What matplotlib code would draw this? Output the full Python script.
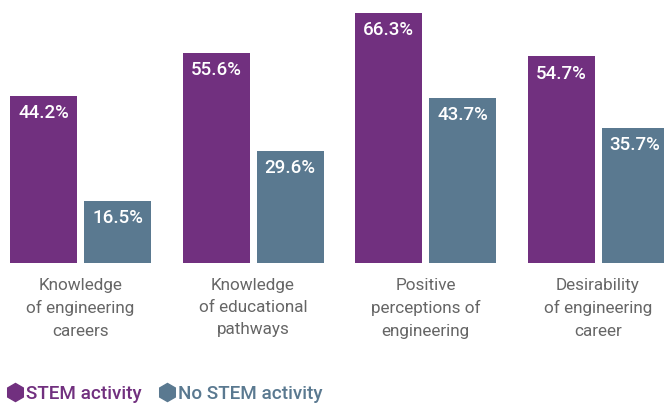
import matplotlib
matplotlib.use("Agg")
import matplotlib.pyplot as plt
from matplotlib.lines import Line2D

categories = [
    "Knowledge\nof engineering\ncareers",
    "Knowledge\nof educational\npathways",
    "Positive\nperceptions of\nengineering",
    "Desirability\nof engineering\ncareer",
]
stem = [44.2, 55.6, 66.3, 54.7]
no_stem = [16.5, 29.6, 43.7, 35.7]
series_names = ["STEM activity", "No STEM activity"]

purple = "#71307f"
slate = "#5a7990"
label_gray = "#666666"

plt.rcParams["font.family"] = ["Roboto", "DejaVu Sans"]

fig = plt.figure(figsize=(6.64, 4.04), dpi=100)
base_px = 263
ax = fig.add_axes([0, (404 - base_px) / 404, 1, base_px / 404])

px_per_pct = 167 / 44.2
ax.set_xlim(0, 664)
ax.set_ylim(0, base_px / px_per_pct)

centers = [80.5 + 172.5 * i for i in range(len(categories))]
width = 67
offset = 37

b1 = ax.bar([c - offset for c in centers], stem, width=width, color=purple)
b2 = ax.bar([c + offset for c in centers], no_stem, width=width, color=slate)

for bars, vals in ((b1, stem), (b2, no_stem)):
    for bar, v in zip(bars, vals):
        ax.annotate(f"{v:.1f}%", (bar.get_x() + bar.get_width() / 2, v),
                    xytext=(0, -6), textcoords="offset points",
                    ha="center", va="top", color="white", fontsize=13.5,
                    fontweight="medium")

ax.set_xticks(centers)
ax.set_xticklabels(categories, fontsize=12.3, color=label_gray, linespacing=1.6)
ax.tick_params(axis="x", length=0, pad=10.5)
ax.set_yticks([])
for s in ax.spines.values():
    s.set_visible(False)

handles = [
    Line2D([], [], marker="h", linestyle="none", markersize=13,
           markerfacecolor=purple, markeredgecolor=purple),
    Line2D([], [], marker="h", linestyle="none", markersize=13,
           markerfacecolor=slate, markeredgecolor=slate),
]
leg = fig.legend(handles, series_names, loc="center left",
                 bbox_to_anchor=(7 / 664, 10 / 404), ncol=2, frameon=False,
                 borderaxespad=0, borderpad=0,
                 handlelength=0.8, handletextpad=0.2, columnspacing=0.95,
                 prop={"size": 13.6, "weight": "medium"},
                 labelcolor="markerfacecolor")

fig.savefig("out.png", dpi=100)
